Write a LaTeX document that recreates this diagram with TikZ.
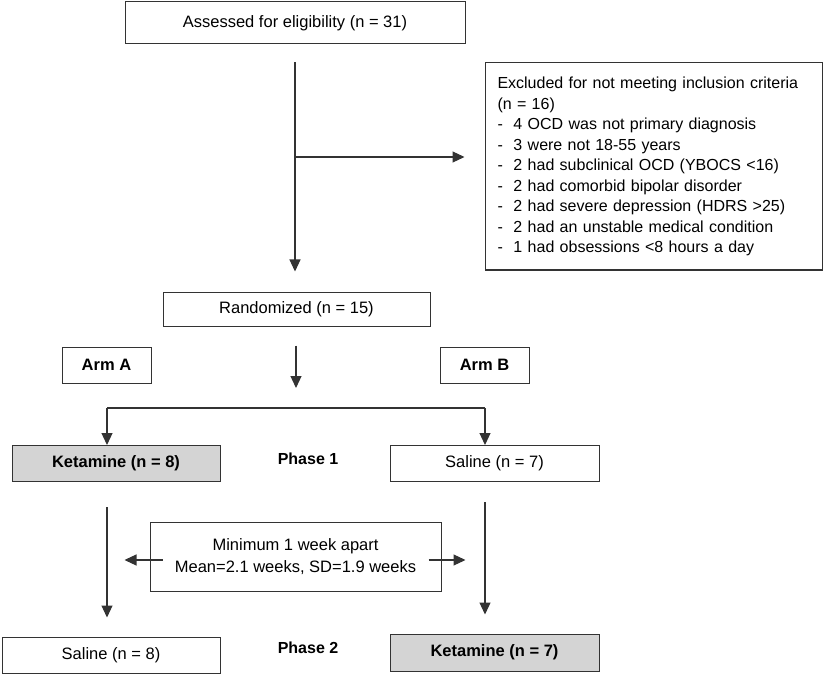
\documentclass[tikz,border=0pt]{standalone}
\usepackage{fontspec}
\setmainfont{Liberation Sans}
\usetikzlibrary{arrows.meta,positioning}
\tikzset{
	box/.style={draw=black!80, line width=1pt, inner sep=0pt, font=\fontsize{16.5}{19}\selectfont},
	shadedbox/.style={box, fill=black!17, font=\fontsize{16.5}{19}\selectfont\bfseries},
	armbox/.style={box, minimum width=89pt, minimum height=36pt, font=\fontsize{16.5}{19}\selectfont\bfseries},
	phaselabel/.style={font=\fontsize{16}{19}\selectfont\bfseries},
	link/.style={draw=black!80, line width=1.2pt, -{Triangle[length=12pt,width=11pt]}},
	plain/.style={draw=black!80, line width=1.2pt},
}
\begin{document}
\begin{tikzpicture}[x=1pt,y=-1pt]
		\useasboundingbox (0,0) rectangle (832,676);
		% boxes
		\node[box, minimum width=340pt, minimum height=42pt] (assess) at (295,23) {Assessed for eligibility (n = 31)};
		\node[box, minimum width=337pt, minimum height=207pt, text width=312pt, align=left, font=\fontsize{16}{20.5}\selectfont] (excl) at (653.5,166.5) {Excluded for not meeting inclusion criteria\\
			(n = 16)\\
			-\ \ 4 OCD was not primary diagnosis\\
			-\ \ 3 were not 18-55 years\\
			-\ \ 2 had subclinical OCD (YBOCS <16)\\
			-\ \ 2 had comorbid bipolar disorder\\
			-\ \ 2 had severe depression (HDRS >25)\\
			-\ \ 2 had an unstable medical condition\\
			-\ \ 1 had obsessions <8 hours a day};
		\node[box, minimum width=267pt, minimum height=34pt] (rand) at (296.5,309) {Randomized (n = 15)};
		\node[armbox] (armA) at (106.5,365) {Arm A};
		\node[armbox] (armB) at (484.5,365) {Arm B};
		\node[shadedbox, minimum width=208pt, minimum height=36pt] (ket1) at (116,463.5) {Ketamine (n = 8)};
		\node[box, minimum width=209pt, minimum height=36pt] (sal1) at (494.5,463.5) {Saline (n = 7)};
		\node[phaselabel] (ph1) at (308,459) {Phase 1};
		\node[box, minimum width=291pt, minimum height=69pt, align=center, font=\fontsize{16.5}{22}\selectfont] (mid) at (295.5,556.5) {Minimum 1 week apart\\Mean=2.1 weeks, SD=1.9 weeks};
		\node[box, minimum width=218pt, minimum height=36pt] (sal2) at (111,655) {Saline (n = 8)};
		\node[shadedbox, minimum width=209pt, minimum height=37pt] (ket2) at (494.5,652.5) {Ketamine (n = 7)};
		\node[phaselabel] (ph2) at (308,648) {Phase 2};
		% connectors
		\coordinate (br) at (295,157);
		\coordinate (split) at (296,408);
		\coordinate (ldrop) at (107,408);
		\coordinate (rdrop) at (485,408);
		\draw[link, shorten <=18pt, shorten >=20pt] (assess.south) -- (assess.south |- rand.north);
		\draw[link, shorten >=20pt] (br) -- (br -| excl.west);
		\draw[link, shorten <=19pt, shorten >=20pt] (rand.south -| split) -- (split);
		\draw[plain] (ldrop) -- (rdrop);
		\draw[link] (ldrop) -- (ldrop |- ket1.north);
		\draw[link] (rdrop) -- (rdrop |- sal1.north);
		\draw[link, shorten <=25pt, shorten >=19pt] (ldrop |- ket1.south) -- (ldrop |- sal2.north);
		\draw[link, shorten <=20pt, shorten >=19pt] (rdrop |- sal1.south) -- (rdrop |- ket2.north);
		\draw[link] ([xshift=13pt,yshift=-3.5pt]mid.west) -- ++(-38,0);
		\draw[link] ([xshift=-13pt,yshift=-3.5pt]mid.east) -- ++(37,0);
	\end{tikzpicture}
\end{document}
